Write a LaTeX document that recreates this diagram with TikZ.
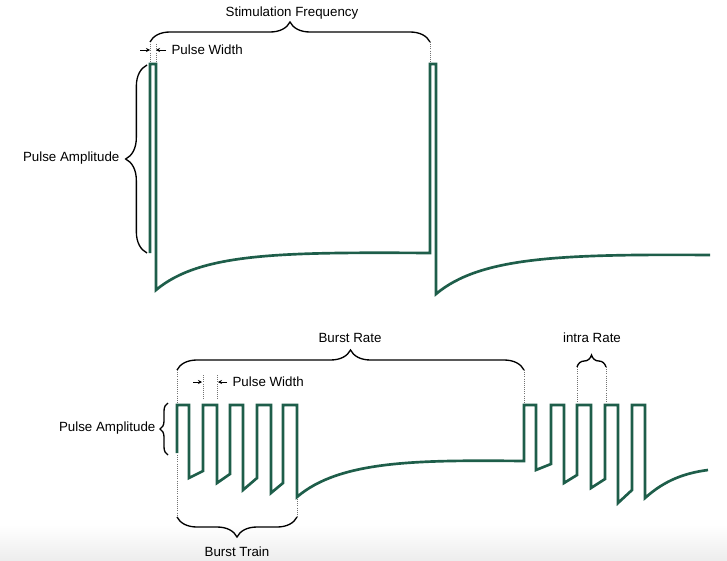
\documentclass[tikz,border=0pt]{standalone}
\usepackage{fontspec}
\setmainfont{Liberation Sans}
\usetikzlibrary{arrows.meta,decorations.pathreplacing}
\definecolor{wave}{HTML}{1E5E4A}

\begin{document}
\begin{tikzpicture}[x=0.75pt,y=-0.75pt,font=\fontsize{10}{12}\selectfont,
  w/.style={draw=wave,line width=2pt},
  br/.style={draw,line width=1pt,decorate,decoration={brace,amplitude=#1}},
  br/.default=15pt,
  dt/.style={draw=black!55,densely dotted,line width=0.6pt},
  pw/.style={-{Stealth[length=3pt,width=3pt]},line width=0.5pt},
  lb/.style={inner sep=1pt}]
\useasboundingbox (0,0) rectangle (727,560);
\shade[top color=white,bottom color=black!7] (0,525) rectangle (727,560);

% single pulses
\draw[w] (150,253) -- (150,64) -- (156,64) -- (156,290)
  .. controls (200,253) and (280,252) .. (430,253) -- (430,64) -- (436,64) -- (436,294)
  .. controls (480,257) and (560,254) .. (710,255);

\coordinate (sfL) at (150,42); \coordinate (sfR) at (430,42);
\draw[br] (sfL) -- (sfR);
\node[lb] (sf) at (292,13) {Stimulation Frequency};
\draw[dt] (150,44) -- (150,62); \draw[dt] (156,44) -- (156,62);
\draw[dt] (sfR) -- (430,62);
\coordinate (pwA) at (150,50); \coordinate (pwB) at (156,50);
\draw[pw] (140,50) -- (pwA); \draw[pw] (166,50) -- (pwB);
\node[lb,anchor=west] (pw1) at (170,50) {Pulse Width};

\coordinate (paB) at (147,253); \coordinate (paT) at (147,65);
\draw[br=16pt] (paB) -- (paT);
\node[lb,anchor=east] (pa1) at (121,158) {Pulse Amplitude};

% burst trains
\draw[w] (177,453) -- (177,405) -- (189,405) -- (189,478) -- (203,471)
  -- (203,405) -- (217,405) -- (217,483) -- (230,474)
  -- (230,405) -- (243,405) -- (243,490) -- (257,478)
  -- (257,405) -- (271,405) -- (271,493) -- (283,483)
  -- (283,405) -- (297,405) -- (297,497)
  .. controls (340,460) and (420,460) .. (524,461)
  -- (524,405) -- (536,405) -- (536,470) -- (551,464)
  -- (551,405) -- (564,405) -- (564,483) -- (577,475)
  -- (577,405) -- (591,405) -- (591,488) -- (605,479)
  -- (605,405) -- (618,405) -- (618,503) -- (632,490)
  -- (632,405) -- (645,405) -- (645,498)
  .. controls (665,480) and (685,473) .. (708,470);

\coordinate (brL) at (177,370); \coordinate (brR) at (524,370);
\draw[br] (brL) -- (brR);
\node[lb] (br) at (350,338) {Burst Rate};
\draw[dt] (brL) -- (177,403); \draw[dt] (brR) -- (524,403);

\coordinate (irL) at (577,367); \coordinate (irR) at (606,367);
\draw[br=9pt] (irL) -- (irR);
\node[lb] (ir) at (592,338) {intra Rate};
\draw[dt] (irL) -- (577,403); \draw[dt] (irR) -- (606,403);

\draw[dt] (203,375) -- (203,399); \draw[dt] (217,375) -- (217,399);
\coordinate (pwC) at (202,382); \coordinate (pwD) at (218,382);
\draw[pw] (193,382) -- (pwC); \draw[pw] (227,382) -- (pwD);
\node[lb,anchor=west] (pw2) at (231,382) {Pulse Width};

\coordinate (pbB) at (168,455); \coordinate (pbT) at (168,403);
\draw[br=6pt] (pbB) -- (pbT);
\node[lb,anchor=east] (pa2) at (157,428) {Pulse Amplitude};

\coordinate (btL) at (177,517); \coordinate (btR) at (297,517);
\draw[dt] (177,455) -- (btL); \draw[dt] (297,499) -- (btR);
\draw[br] (btR) -- (btL);
\node[lb] (bt) at (237,552) {Burst Train};
\end{tikzpicture}
\end{document}
